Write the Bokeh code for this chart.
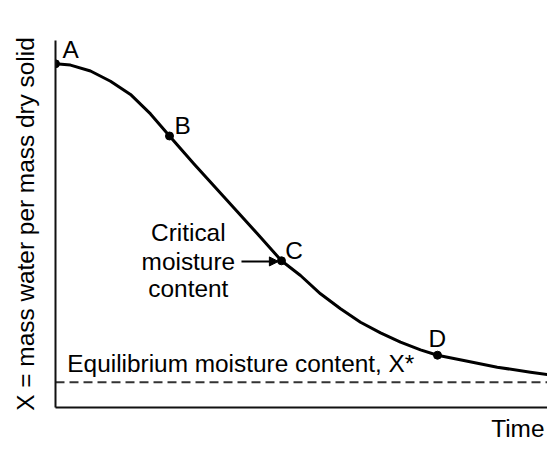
from bokeh.plotting import figure
from bokeh.models import Range1d, Label, Arrow, NormalHead, Title
from bokeh.embed import file_html
from bokeh.resources import INLINE

# Drying curve (time and moisture in arbitrary 0-100 units)
curve_t = [0.0, 3.05, 7.11, 11.18, 15.24, 19.31, 23.17, 28.11, 34.90, 41.67, 45.93,
           49.80, 53.86, 57.93, 61.99, 66.06, 70.12, 74.19, 77.64, 82.99, 89.78, 96.54, 100.0]
curve_x = [93.65, 93.3, 91.7, 88.9, 85.3, 80.0, 73.98, 66.40, 56.40, 46.40, 39.97,
           35.97, 30.98, 26.89, 23.24, 20.35, 17.79, 15.72, 14.25, 12.81, 10.98, 9.62, 9.0]
point_names = ["A", "B", "C", "D"]
point_t = [0.0, 23.17, 45.93, 77.64]
point_x = [93.65, 73.98, 39.97, 14.25]
equilibrium_x = 6.9

FONT = "Liberation Sans"
FS = "24.4px"

p = figure(width=547, height=449, output_backend="svg", toolbar_location=None,
           x_range=Range1d(0, 100), y_range=Range1d(0, 100),
           min_border_left=55, min_border_right=0, min_border_top=40, min_border_bottom=42)
p.outline_line_color = None
p.xgrid.visible = False
p.ygrid.visible = False
p.background_fill_color = "white"
for ax in (p.xaxis, p.yaxis):
    ax.major_tick_line_color = None
    ax.minor_tick_line_color = None
    ax.major_label_text_font_size = "0px"
    ax.major_label_text_color = None
    ax.axis_line_width = 2
    ax.axis_line_color = "#111111"
    ax.major_tick_in = 0
    ax.major_tick_out = 0
    ax.minor_tick_in = 0
    ax.minor_tick_out = 0
    ax.major_label_standoff = 0

p.yaxis.axis_label = "X = mass water per mass dry solid"
p.yaxis.axis_label_text_font = FONT
p.yaxis.axis_label_text_font_size = FS
p.yaxis.axis_label_text_font_style = "normal"
p.yaxis.axis_label_text_color = "black"
p.yaxis.axis_label_standoff = 17

p.add_layout(Title(text="Time", align="right", text_font=FONT, text_font_size=FS,
                   text_font_style="normal", text_color="black", offset=3), "below")

p.line(curve_t, curve_x, line_width=3, line_color="black", line_join="round")
p.line([0, 100], [equilibrium_x, equilibrium_x], line_width=2, line_color="#333333",
       line_dash="9 5")
p.scatter(point_t, point_x, size=8, color="black")

label_pos = {"A": (1.4, 97.5, "left"), "B": (24.2, 76.8, "left"),
             "C": (46.7, 42.8, "left"), "D": (77.6, 18.8, "center")}
for name in point_names:
    lx, ly, al = label_pos[name]
    p.add_layout(Label(x=lx, y=ly, text=name, text_font=FONT, text_font_size=FS,
                       text_align=al, text_baseline="middle", text_color="black"))

for txt, ly in [("Critical", 47.7), ("moisture", 39.8), ("content", 32.5)]:
    p.add_layout(Label(x=27.0, y=ly, text=txt, text_font=FONT, text_font_size=FS,
                       text_align="center", text_baseline="middle", text_color="black"))

p.add_layout(Arrow(x_start=37.8, y_start=39.8, x_end=45.3, y_end=39.8, line_width=2,
                   end=NormalHead(size=9, fill_color="black", line_color="black")))

p.add_layout(Label(x=2.4, y=12.0, text="Equilibrium moisture content, X*", text_font=FONT,
                   text_font_size=FS, text_align="left", text_baseline="middle",
                   text_color="black"))

open("out.html", "w").write(file_html(p, INLINE))
